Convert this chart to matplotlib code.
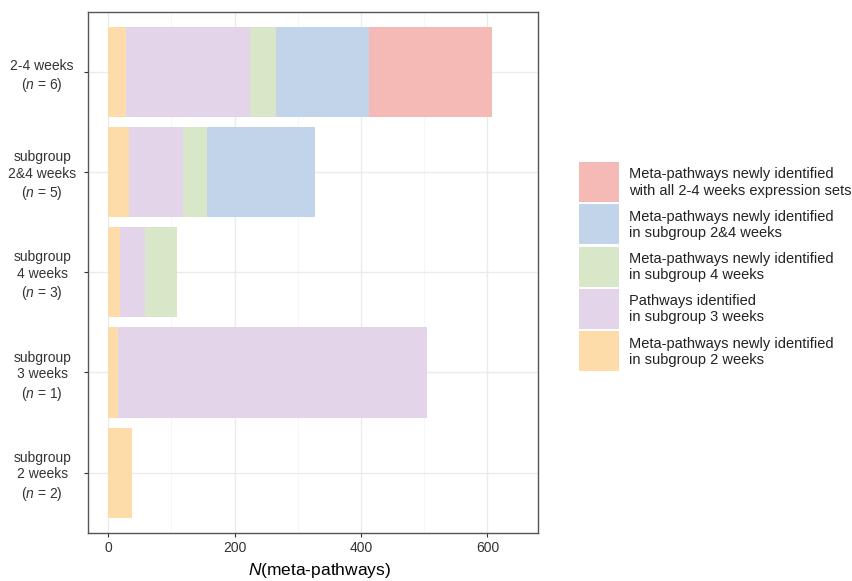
import matplotlib
matplotlib.use("Agg")
import matplotlib.pyplot as plt
from matplotlib.patches import Rectangle
from matplotlib.ticker import MultipleLocator

# -------------------------------
# FONTS
# -------------------------------
plt.rcParams["font.family"] = ["Liberation Sans", "DejaVu Sans"]
plt.rcParams["mathtext.fontset"] = "custom"
plt.rcParams["mathtext.rm"] = "Liberation Sans"
plt.rcParams["mathtext.it"] = "Liberation Sans:italic"

# -------------------------------
# DATOS (bottom -> top)
# -------------------------------
groups = [
    "subgroup\n2 weeks\n($\\it{n}$ = 2)",
    "subgroup\n3 weeks\n($\\it{n}$ = 1)",
    "subgroup\n4 weeks\n($\\it{n}$ = 3)",
    "subgroup\n2&4 weeks\n($\\it{n}$ = 5)",
    "2-4 weeks\n($\\it{n}$ = 6)",
]

new_2w = [37, 16, 19, 33, 28]
path_3w = [0, 488, 39, 85, 196]
new_4w = [0, 0, 51, 39, 42]
new_24w = [0, 0, 0, 170, 147]
new_all = [0, 0, 0, 0, 195]

series = [new_2w, path_3w, new_4w, new_24w, new_all]
series_labels = [
    "Meta-pathways newly identified\nin subgroup 2 weeks",
    "Pathways identified\nin subgroup 3 weeks",
    "Meta-pathways newly identified\nin subgroup 4 weeks",
    "Meta-pathways newly identified\nin subgroup 2&4 weeks",
    "Meta-pathways newly identified\nwith all 2-4 weeks expression sets",
]
colors = ["#FDDCAA", "#E4D4EA", "#D9E7C9", "#C2D4EA", "#F5BAB6"]

# -------------------------------
# FIGURA
# -------------------------------
W, H = 853, 581
fig = plt.figure(figsize=(W / 100, H / 100), dpi=100)
ax = fig.add_axes([88 / W, (H - 532.7) / H, 450 / W, 520.7 / H])

ypos = list(range(1, len(groups) + 1))
left = [0] * len(groups)
for vals, col in zip(series, colors):
    ax.barh(ypos, vals, left=left, height=0.9, color=col, zorder=2)
    left = [a + b for a, b in zip(left, vals)]

ax.set_xlim(-32, 680)
ax.set_ylim(0.4, 5.6)
ax.xaxis.set_major_locator(MultipleLocator(200))
ax.xaxis.set_minor_locator(MultipleLocator(100))
ax.set_yticks(ypos)
ax.set_yticklabels(groups, ha="center", fontsize=10, color="#333333",
                   linespacing=1.25)
ax.tick_params(axis="y", pad=30, length=3, color="#333333")
ax.tick_params(axis="x", which="major", length=3, color="#333333",
               labelsize=10, labelcolor="#333333", pad=3)
ax.tick_params(axis="x", which="minor", length=0)

ax.grid(True, which="major", color="#EBEBEB", linewidth=1.0, zorder=0)
ax.grid(True, which="minor", axis="x", color="#F5F5F5", linewidth=0.6, zorder=0)
ax.set_axisbelow(True)
for s in ax.spines.values():
    s.set_color("#555555")
    s.set_linewidth(1.0)

ax.set_xlabel("$\\it{N}$(meta-pathways)", fontsize=12.5, va="top")
ax.xaxis.set_label_coords(0.515, -0.054)

# -------------------------------
# LEYENDA
# -------------------------------
for i, (lab, col) in enumerate(zip(series_labels[::-1], colors[::-1])):
    top = 162 + i * 42.3
    fig.add_artist(Rectangle((579 / W, (H - top - 40) / H), 40 / W, 40 / H,
                             transform=fig.transFigure, color=col,
                             linewidth=0))
    fig.text(629 / W, (H - top - 20.5) / H, lab, ha="left", va="center",
             fontsize=10.5, color="#222222", linespacing=1.2)

fig.savefig("out.png", dpi=100)
